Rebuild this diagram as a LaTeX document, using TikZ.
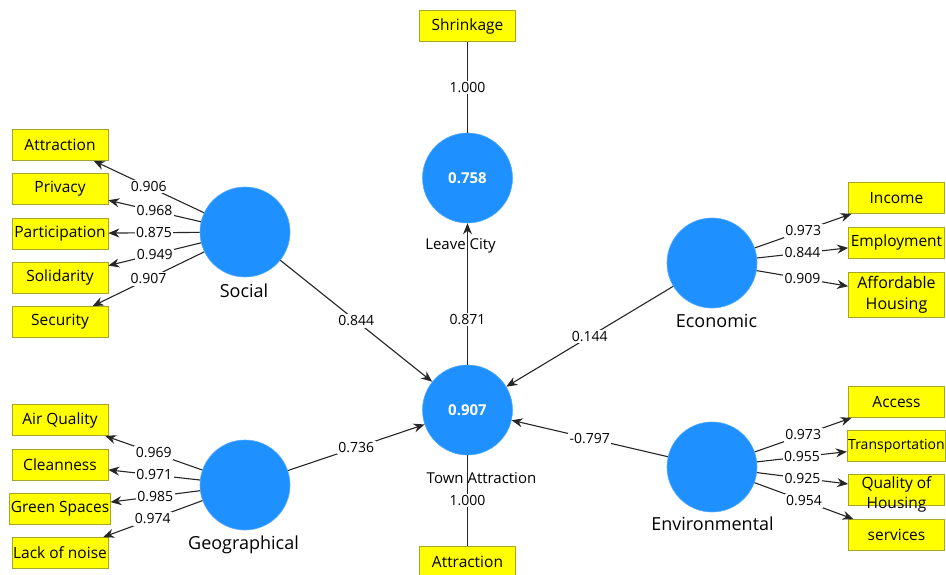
\documentclass[tikz,border=0pt]{standalone}
\usepackage{fontspec}
\setmainfont{Open Sans}
\usetikzlibrary{arrows.meta}
\definecolor{lvblue}{RGB}{30,144,255}
\definecolor{mvyellow}{RGB}{255,255,0}
\definecolor{mvedge}{RGB}{165,165,40}

\begin{document}
\begin{tikzpicture}[x=1pt,y=-1pt,>={Stealth[length=11pt,width=9pt]},line width=1.1pt,draw=black!85,
  every node/.style={font=\fontsize{14}{16}\selectfont},
  lv/.style={circle,fill=lvblue,draw=lvblue!75!white,line width=.6pt,minimum size=90pt,inner sep=0pt,text=white,font=\fontsize{15}{17}\selectfont\bfseries},
  lvname/.style={anchor=base,font=\fontsize{18}{20}\selectfont},
  lvsmall/.style={anchor=base,font=\fontsize{15}{17}\selectfont},
  mv/.style={rectangle,fill=mvyellow,draw=mvedge,line width=.7pt,minimum width=96pt,minimum height=31pt,inner sep=1pt,align=center,font=\fontsize{15.5}{20}\selectfont},
  coef/.style={fill=white,inner sep=1.5pt}]
\useasboundingbox (0,0) rectangle (946,575);

\node[lv] (soc) at (245,232) {};
\node[lv] (geo) at (245,485) {};
\node[lv] (eco) at (712,263) {};
\node[lv] (env) at (712,467) {};
\node[lv] (lea) at (467.5,178) {0.758};
\node[lv] (tow) at (467.5,410) {0.907};

\node[mv] (attr) at (60,145) {Attraction};
\node[mv] (priv) at (60,189) {Privacy};
\node[mv] (part) at (60,233.5) {Participation};
\node[mv] (soli) at (60,277.5) {Solidarity};
\node[mv] (secu) at (60,322) {Security};
\node[mv] (airq) at (60,420) {Air Quality};
\node[mv] (clea) at (60,464.5) {Cleanness};
\node[mv] (gree) at (60,508.5) {Green Spaces};
\node[mv] (lack) at (60,553) {Lack of noise};
\node[mv] (inco) at (896.5,198) {Income};
\node[mv] (empl) at (896.5,242.5) {Employment};
\node[mv,minimum height=45pt,font=\fontsize{16}{21}\selectfont] (affo) at (896.5,294.5) {Affordable\\Housing};
\node[mv] (acce) at (896.5,402) {Access};
\node[mv,font=\fontsize{14}{16}\selectfont] (tran) at (896.5,446) {Transportation};
\node[mv,label={[align=center,font=\fontsize{15.5}{20}\selectfont,yshift=-4pt]center:Quality of\\Housing}] (qual) at (896.5,490) {};
\node[mv] (serv) at (896.5,535) {services};
\node[mv] (shri) at (467.5,26) {Shrinkage};
\node[mv] (town) at (467.5,562) {Attraction};

\node[lvname] at (244,298) {Social};
\node[lvname] at (243.5,549) {Geographical};
\node[lvname] at (716.5,327) {Economic};
\node[lvname] at (712.5,530) {Environmental};
\node[lvsmall] at (460.5,250) {Leave City};
\node[lvsmall] at (481.5,483) {Town Attraction};

\draw[->] (soc)--(attr) node[midway,coef] {0.906};
\draw[->] (soc)--(priv) node[midway,coef] {0.968};
\draw[->] (soc)--(part) node[midway,coef] {0.875};
\draw[->] (soc)--(soli) node[midway,coef] {0.949};
\draw[->] (soc)--(secu) node[midway,coef] {0.907};
\draw[->] (geo)--(airq) node[midway,coef] {0.969};
\draw[->] (geo)--(clea) node[midway,coef] {0.971};
\draw[->] (geo)--(gree) node[midway,coef] {0.985};
\draw[->] (geo)--(lack) node[midway,coef] {0.974};
\draw[->] (eco)--(inco) node[midway,coef] {0.973};
\draw[->] (eco)--(empl) node[midway,coef] {0.844};
\draw[->] (eco)--(affo) node[midway,coef] {0.909};
\draw[->] (env)--(acce) node[midway,coef] {0.973};
\draw[->] (env)--(tran) node[midway,coef] {0.955};
\draw[->] (env)--(qual) node[midway,coef] {0.925};
\draw[->] (env)--(serv) node[midway,coef] {0.954};
\draw (lea)--(shri) node[midway,coef] {1.000};
\draw (tow)--(town) node[midway,coef] {1.000};

\draw[->] (soc)--(tow) node[midway,coef] {0.844};
\draw[->] (geo)--(tow) node[midway,coef] {0.736};
\draw[->] (eco)--(tow) node[midway,coef] {0.144};
\draw[->] (env)--(tow) node[midway,coef] {-0.797};
\draw[->] (tow)--(lea) node[pos=.32,coef] {0.871};

\end{tikzpicture}
\end{document}
